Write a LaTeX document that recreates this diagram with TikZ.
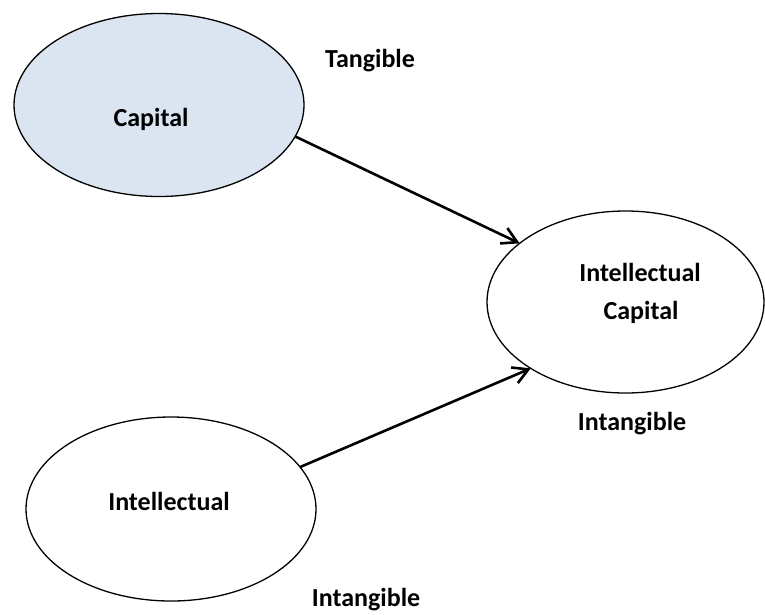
\documentclass[tikz,border=0pt]{standalone}
\usepackage{fontspec}
\setmainfont{Carlito}
\usetikzlibrary{shapes.geometric,arrows.meta}
\definecolor{capfill}{HTML}{DBE5F1}
\tikzset{
  blob/.style={ellipse,draw=black,line width=1.3pt,inner sep=0pt,outer sep=0pt},
  lbl/.style={font=\bfseries\fontsize{26}{37}\selectfont,inner sep=0pt,anchor=base},
  link/.style={line width=2.6pt,-{Straight Barb[length=15pt,width=17pt]}}
}
\begin{document}
\begin{tikzpicture}[x=1pt,y=-1pt]
\useasboundingbox (0,0) rectangle (765,614);
\node[blob,fill=capfill,minimum width=290pt,minimum height=183pt] (cap) at (159,105) {};
\node[blob,minimum width=277pt,minimum height=182pt] (ic) at (625.5,302) {};
\node[blob,minimum width=290pt,minimum height=184pt] (intel) at (171,509) {};
\node[lbl] (tcap) at (151,126) {Capital};
\node[lbl] (ttan) at (370,67) {Tangible};
\node[lbl] (tic1) at (640,281) {Intellectual};
\node[lbl] (tic2) at (641,319) {Capital};
\node[lbl] (tint1) at (632,430) {Intangible};
\node[lbl] (tintel) at (169,510) {Intellectual};
\node[lbl] (tint2) at (366,606) {Intangible};
\draw[link] (cap.-13) -- (ic.151);
\draw[link] (intel.18) -- (ic.215);
\end{tikzpicture}
\end{document}
